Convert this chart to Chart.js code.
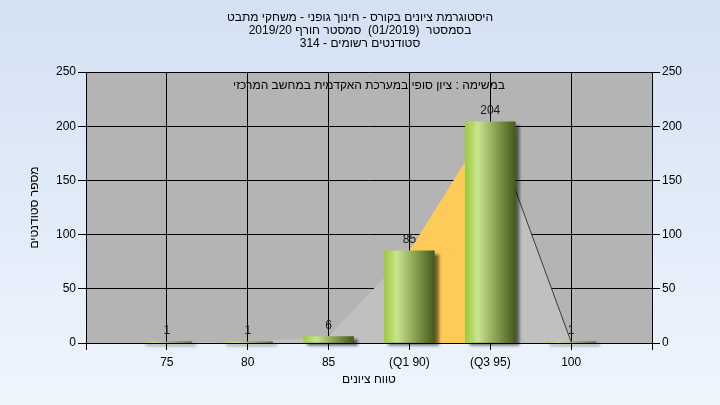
<!DOCTYPE html>
<html>
<head>
<meta charset="utf-8">
<script src="https://cdn.jsdelivr.net/npm/chart.js@4.4.1/dist/chart.umd.min.js"></script>
<style>
html, body { margin: 0; padding: 0; }
</style>
</head>
<body>
<canvas id="graph" width="720" height="405"></canvas>
<script>
// header lines (rtl)
const titleLines = [
    "היסטוגרמת ציונים בקורס - חינוך גופני - משחקי מתבט",
    "בסמסטר  (01/2019)  סמסטר חורף 2019/20",
    "סטודנטים רשומים - 314"
];
const innerTitle = "במשימה : ציון סופי במערכת האקדמית במחשב המרכזי";
const yTitle = "מספר סטודנטים";
const xTitle = "טווח ציונים";

const grades = ["75", "80", "85", "(Q1 90)", "(Q3 95)", "100"];
const counts = [1, 1, 6, 85, 204, 1];
const q1Index = 3;
const q3Index = 4;
const yMax = 250;
const yStep = 50;

// one empty slot on each side, like the original plot
const labels = [""].concat(grades, [""]);
const values = [null].concat(counts, [null]);

const FONT = "'Liberation Sans', Arial, sans-serif";
Chart.defaults.font.family = FONT;
Chart.defaults.font.size = 12;
Chart.defaults.color = "#000";

function barFill(context) {
    const chart = context.chart;
    if (!chart.chartArea || context.type !== "data") return "#9acd32";
    const x = chart.scales.x.getPixelForValue(context.dataIndex);
    const g = chart.ctx.createLinearGradient(x - 25, 0, x + 25, 0);
    g.addColorStop(0, "#9dcb3a");
    g.addColorStop(0.25, "#c9e48f");
    g.addColorStop(0.55, "#93ad5c");
    g.addColorStop(1, "#435b1b");
    return g;
}

const background = {
    id: "background",
    beforeDraw(chart) {
        const {ctx, chartArea} = chart;
        ctx.save();
        const g = ctx.createLinearGradient(0, 0, 0, chart.height);
        g.addColorStop(0, "#d3e1f3");
        g.addColorStop(1, "#eef5fd");
        ctx.fillStyle = g;
        ctx.fillRect(0, 0, chart.width, chart.height);
        ctx.fillStyle = "#b4b4b4";
        ctx.fillRect(chartArea.left, chartArea.top, chartArea.right - chartArea.left, chartArea.bottom - chartArea.top);
        ctx.restore();
    }
};

const barShadow = {
    id: "barShadow",
    beforeDatasetDraw(chart, args) {
        if (args.meta.type !== "bar") return;
        const ctx = chart.ctx;
        ctx.save();
        ctx.shadowColor = "rgba(0,0,0,0.55)";
        ctx.shadowOffsetX = 4;
        ctx.shadowOffsetY = 3;
        ctx.shadowBlur = 3;
    },
    afterDatasetDraw(chart, args) {
        if (args.meta.type !== "bar") return;
        chart.ctx.restore();
    }
};

const texts = {
    id: "texts",
    afterDatasetsDraw(chart) {
        const {ctx, chartArea} = chart;
        ctx.save();
        ctx.font = "12px " + FONT;
        ctx.textAlign = "center";
        ctx.textBaseline = "middle";

        // value labels above the bars
        chart.getSortedVisibleDatasetMetas().forEach(meta => {
            if (meta.type !== "bar") return;
            meta.data.forEach((el, i) => {
                const v = values[i];
                if (v === null) return;
                ctx.fillStyle = "#1a1a1a";
                ctx.fillText(String(v), el.x, el.y - 11);
            });
        });

        ctx.fillStyle = "#000";
        ctx.direction = "rtl";
        titleLines.forEach((line, i) => {
            ctx.fillText(line, 360, 18 + i * 13);
        });
        ctx.fillText(innerTitle, (chartArea.left + chartArea.right) / 2, 86);
        ctx.restore();
    }
};

var graph = document.getElementById("graph").getContext("2d");

var chart = new Chart(graph, {
    type: "bar",
    data: {
        labels: labels,
        datasets: [
            {
                label: "counts",
                data: values,
                order: 0,
                barThickness: 50,
                borderWidth: 0,
                backgroundColor: barFill,
                clip: false
            },
            {
                type: "line",
                label: "area",
                data: values,
                order: 1,
                fill: "origin",
                tension: 0,
                pointRadius: 0,
                borderWidth: 1,
                backgroundColor: "#c0c0c0",
                borderColor: "rgba(0,0,0,0)",
                segment: {
                    backgroundColor: c => c.p0DataIndex === q1Index + 1 ? "#fecb5a" : "#c0c0c0",
                    borderColor: c => c.p0DataIndex === q3Index + 1 ? "#3a3a3a" : "rgba(0,0,0,0)"
                }
            }
        ]
    },
    options: {
        responsive: false,
        animation: false,
        layout: { padding: { top: 72, left: 0, right: 0, bottom: 0 } },
        plugins: {
            legend: { display: false },
            tooltip: { enabled: false }
        },
        scales: {
            x: {
                offset: false,
                grid: { color: "#000", tickLength: 7, offset: false },
                border: { color: "#000" },
                ticks: { color: "#000", padding: 5, autoSkip: false, maxRotation: 0 },
                title: { display: true, text: xTitle, color: "#000", padding: { top: 0, bottom: 18 } },
                afterFit: s => { s.height = 62; }
            },
            y: {
                position: "left",
                min: 0,
                max: yMax,
                ticks: { stepSize: yStep, color: "#000", padding: 2 },
                grid: { color: "#000", tickLength: 8 },
                border: { color: "#000" },
                title: { display: true, text: yTitle, color: "#000", padding: { top: 27, bottom: 0 } },
                afterFit: s => { s.width = 86; }
            },
            y2: {
                position: "right",
                min: 0,
                max: yMax,
                ticks: { stepSize: yStep, color: "#000", padding: 2 },
                grid: { color: "#000", tickLength: 8, drawOnChartArea: false },
                border: { color: "#000" },
                afterFit: s => { s.width = 68; }
            }
        }
    },
    plugins: [background, barShadow, texts]
});
</script>
</body>
</html>
